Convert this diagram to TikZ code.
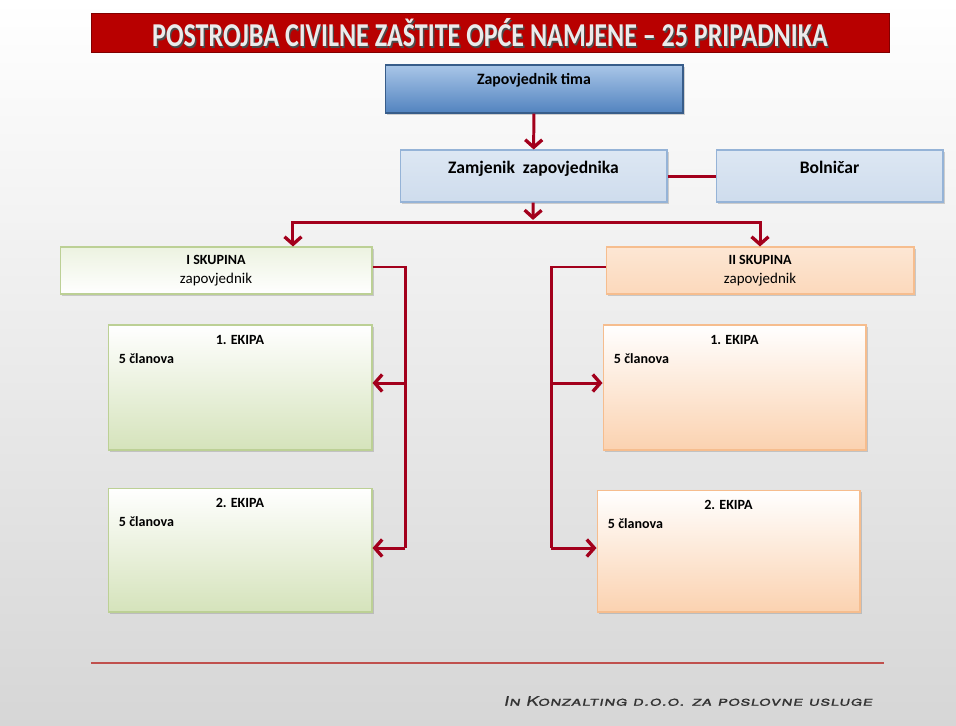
\documentclass[tikz,border=0pt]{standalone}
\usepackage{fontspec}
\setmainfont{Carlito}
\newfontfamily\footfont[Letters=SmallCaps,FakeSlant=0.2,FakeStretch=1.4,LetterSpace=4,FakeBold=0.6]{TeX Gyre Heros}
\usetikzlibrary{%
    arrows.meta,
    positioning,
    shadows,
    calc
}
\definecolor{titlered}{HTML}{B80000}
\definecolor{linkred}{HTML}{A3001C}
\definecolor{sepred}{HTML}{C0504D}
\definecolor{blueT}{HTML}{A9C6E8}
\definecolor{blueB}{HTML}{5283BF}
\definecolor{blueE}{HTML}{385D8A}
\definecolor{lblueT}{HTML}{DDE7F3}
\definecolor{lblueB}{HTML}{B9CDE5}
\definecolor{lblueE}{HTML}{95B3D7}
\definecolor{greenT}{HTML}{FFFFFF}
\definecolor{greenB}{HTML}{D5E3BB}
\definecolor{greenE}{HTML}{BCD095}
\definecolor{peachT}{HTML}{FFFFFF}
\definecolor{peachB}{HTML}{FBD2B0}
\definecolor{peachE}{HTML}{F6BD8E}

\begin{document}
\begin{tikzpicture}[x=0.02cm, y=-0.02cm,
    box/.style={rectangle, draw, inner sep=2pt, line width=0.6pt,
      drop shadow={shadow xshift=1.2pt, shadow yshift=-1.4pt, opacity=0.35}},
    bluebox/.style={box, draw=blueE, top color=blueT, bottom color=blueB},
    lbluebox/.style={box, draw=lblueE, top color=lblueT, bottom color=lblueB!70!white},
    greenbox/.style={box, draw=greenE, top color=greenT, bottom color=greenB,
      font=\fontsize{8.5}{10.5}\selectfont},
    peachbox/.style={box, draw=peachE, top color=peachT, bottom color=peachB,
      font=\fontsize{8.5}{10.5}\selectfont},
    boxtitle/.style={font=\fontsize{8}{9}\selectfont\bfseries},
    link/.style={draw=linkred, line width=1.7pt, -{Straight Barb[length=1.5mm, width=3.4mm, line width=1.9pt]}},
    line/.style={draw=linkred, line width=1.7pt}]

  % background
  \shade[top color=white, bottom color=black!16] (0,0) rectangle (956,725);
  \useasboundingbox (0,0) rectangle (956,725);

  % title bar
  \node[rectangle, fill=titlered, draw=titlered!70!black, minimum width=15.96cm, minimum height=0.78cm,
    inner sep=0pt] (title) at (490,33) {};
  \node[text=black!70, font=\fontsize{19}{19}\selectfont\bfseries] at ([xshift=0.8pt, yshift=-0.9pt]title.center)
    {\scalebox{0.78}[1]{POSTROJBA CIVILNE ZAŠTITE OPĆE NAMJENE – 25 PRIPADNIKA}};
  \node[text=black!8, font=\fontsize{19}{19}\selectfont\bfseries] (titletext) at (title.center)
    {\scalebox{0.78}[1]{POSTROJBA CIVILNE ZAŠTITE OPĆE NAMJENE – 25 PRIPADNIKA}};

  % command
  \node[bluebox, minimum width=5.96cm, minimum height=0.96cm,
    label={[anchor=north, yshift=-1.5pt, font=\fontsize{9}{10}\selectfont\bfseries]north:Zapovjednik tima}]
    (tima) at (534,89) {};
  \node[lbluebox, minimum width=5.34cm, minimum height=1.04cm,
    label={[anchor=north, yshift=-3pt, font=\fontsize{10}{11}\selectfont\bfseries]north:Zamjenik\ \ zapovjednika}]
    (zamj) at (533.5,176) {};
  \node[lbluebox, minimum width=4.54cm, minimum height=1.04cm,
    label={[anchor=north, yshift=-3pt, font=\fontsize{10}{11}\selectfont\bfseries]north:Bolničar}]
    (boln) at (829.5,176) {};

  % groups
  \node[greenbox, minimum width=6.24cm, minimum height=0.94cm, align=center, top color=greenB!45!white, bottom color=greenT]
    (sk1) at (216,270.5) {\textbf{\fontsize{8}{10.5}\selectfont I SKUPINA}\\zapovjednik};
  \node[peachbox, minimum width=6.16cm, minimum height=0.94cm, align=center, top color=peachB!55!white, bottom color=peachB!85!white]
    (sk2) at (760,270.5) {\textbf{\fontsize{8}{10.5}\selectfont II SKUPINA}\\zapovjednik};

  % teams
  \node[greenbox, minimum width=5.28cm, minimum height=2.5cm,
    label={[anchor=north, yshift=-2.5pt, boxtitle]north:1. EKIPA},
    label={[anchor=north west, xshift=3pt, yshift=-13pt, boxtitle]north west:5 članova}]
    (ek1L) at (240,387.5) {};
  \node[greenbox, minimum width=5.28cm, minimum height=2.48cm,
    label={[anchor=north, yshift=-2.5pt, boxtitle]north:2. EKIPA},
    label={[anchor=north west, xshift=3pt, yshift=-13pt, boxtitle]north west:5 članova}]
    (ek2L) at (240,550) {};
  \node[peachbox, minimum width=5.26cm, minimum height=2.5cm,
    label={[anchor=north, yshift=-2.5pt, boxtitle]north:1. EKIPA},
    label={[anchor=north west, xshift=3pt, yshift=-13pt, boxtitle]north west:5 članova}]
    (ek1R) at (734.5,387.5) {};
  \node[peachbox, minimum width=5.26cm, minimum height=2.44cm,
    label={[anchor=north, yshift=-2.5pt, boxtitle]north:2. EKIPA},
    label={[anchor=north west, xshift=3pt, yshift=-13pt, boxtitle]north west:5 članova}]
    (ek2R) at (728.5,551) {};

  % connectors
  \coordinate (bus) at (533,222);
  \coordinate (trunkL) at (405,548);
  \coordinate (trunkR) at (551,548);
  \coordinate (tapL) at (405,383);
  \coordinate (tapR) at (551,383);

  \draw[link] (tima) -- (zamj);
  \draw[line] (zamj) -- (boln);
  \draw[link] (zamj) -- ([yshift=1.2pt]bus);
  \draw[link] (bus) -| ([xshift=1.54cm]sk1.north);
  \draw[link] (bus) -| (sk2.north);

  \draw[line] ([yshift=2pt]sk1.east) -| (trunkL);
  \draw[link] (tapL) -- (tapL -| ek1L.east);
  \draw[link] (trunkL) -- (trunkL -| ek2L.east);

  \draw[line] ([yshift=2pt]sk2.west) -| (trunkR);
  \draw[link] (tapR) -- (tapR -| ek1R.west);
  \draw[link] (trunkR) -- (trunkR -| ek2R.west);

  % footer
  \draw[sepred, line width=1.1pt] (91,663) -- (884,663);
  \node[anchor=west, inner sep=0pt, text=black!80, font=\footfont\fontsize{7.5}{8}\selectfont] (firm) at (503,701)
    {In Konzalting d.o.o. za poslovne usluge};
\end{tikzpicture}
\end{document}
